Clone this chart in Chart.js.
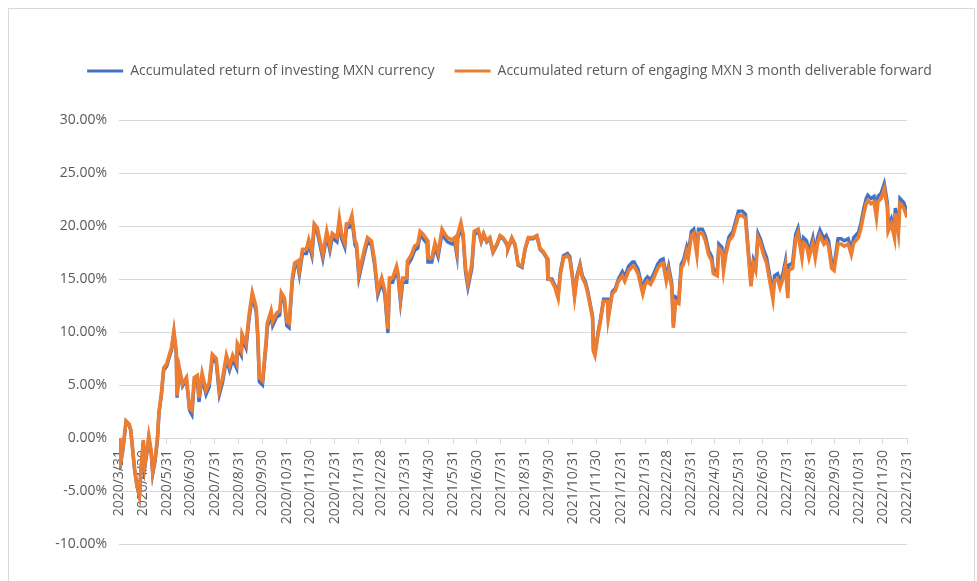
<!DOCTYPE html>
<html>
<head>
<meta charset="utf-8">
<script src="https://cdn.jsdelivr.net/npm/chart.js@4"></script>
<style>
html,body{margin:0;padding:0;background:#fff;}
#wrap{position:absolute;left:0;top:0;width:977px;height:581px;overflow:hidden;}
#frame{position:absolute;left:8px;top:8px;width:967px;height:590px;border:1px solid #d9d9d9;box-sizing:border-box;}
canvas{position:absolute;left:0;top:0;}
</style>
</head>
<body>
<div id="wrap"><div id="frame"></div><canvas id="c" width="977" height="581"></canvas></div>
<script>
const seriesNames = [
  "Accumulated return of investing MXN currency",
  "Accumulated return of engaging MXN 3 month deliverable forward"
];

const tickLabels = [
"2020/3/31","2020/4/30","2020/5/31","2020/6/30","2020/7/31","2020/8/31","2020/9/30","2020/10/31","2020/11/30","2020/12/31",
"2021/1/31","2021/2/28","2021/3/31","2021/4/30","2021/5/31","2021/6/30","2021/7/31","2021/8/31","2021/9/30","2021/10/31","2021/11/30","2021/12/31",
"2022/1/31","2022/2/28","2022/3/31","2022/4/30","2022/5/31","2022/6/30","2022/7/31","2022/8/31","2022/9/30","2022/10/31","2022/11/30","2022/12/31"
];

const dates = [
"2020-03-31","2020-04-01","2020-04-05","2020-04-09","2020-04-13","2020-04-15","2020-04-18","2020-04-20","2020-04-23","2020-04-26","2020-04-28",
"2020-05-01","2020-05-03","2020-05-06","2020-05-08","2020-05-11","2020-05-13","2020-05-16","2020-05-19","2020-05-21","2020-05-24","2020-05-27","2020-05-31",
"2020-06-03","2020-06-06","2020-06-09","2020-06-12","2020-06-13","2020-06-16","2020-06-20","2020-06-25","2020-06-29",
"2020-07-02","2020-07-05","2020-07-09","2020-07-11","2020-07-15","2020-07-20","2020-07-24","2020-07-28",
"2020-08-02","2020-08-06","2020-08-10","2020-08-15","2020-08-19","2020-08-23","2020-08-28","2020-08-29",
"2020-09-03","2020-09-04","2020-09-09","2020-09-13","2020-09-17","2020-09-22","2020-09-24","2020-09-26","2020-09-30",
"2020-10-05","2020-10-06","2020-10-11","2020-10-13","2020-10-18","2020-10-22","2020-10-24","2020-10-28","2020-10-31",
"2020-11-03","2020-11-07","2020-11-10","2020-11-14","2020-11-16","2020-11-20","2020-11-25","2020-11-28",
"2020-12-02","2020-12-05","2020-12-09","2020-12-12","2020-12-16","2020-12-21","2020-12-25","2020-12-28",
"2021-01-03","2021-01-06","2021-01-09","2021-01-13","2021-01-15","2021-01-19","2021-01-22","2021-01-26","2021-01-28","2021-01-31",
"2021-02-03","2021-02-07","2021-02-11","2021-02-16","2021-02-20","2021-02-24",
"2021-03-01","2021-03-05","2021-03-09","2021-03-11","2021-03-15","2021-03-20","2021-03-22","2021-03-25","2021-03-28",
"2021-04-02","2021-04-03","2021-04-08","2021-04-12","2021-04-16","2021-04-19","2021-04-22","2021-04-28","2021-04-29",
"2021-05-04","2021-05-08","2021-05-12","2021-05-17","2021-05-21","2021-05-24","2021-05-30",
"2021-06-02","2021-06-05","2021-06-06","2021-06-10","2021-06-13","2021-06-16","2021-06-19","2021-06-24","2021-06-27",
"2021-07-02","2021-07-06","2021-07-09","2021-07-13","2021-07-17","2021-07-21","2021-07-26","2021-07-30",
"2021-08-03","2021-08-08","2021-08-09","2021-08-14","2021-08-18","2021-08-22","2021-08-27","2021-08-31",
"2021-09-04","2021-09-10","2021-09-15","2021-09-19","2021-09-23","2021-09-28","2021-09-29",
"2021-10-04","2021-10-08","2021-10-12","2021-10-15","2021-10-19","2021-10-24","2021-10-27","2021-10-30",
"2021-11-02","2021-11-05","2021-11-09","2021-11-12","2021-11-16","2021-11-19","2021-11-25","2021-11-26","2021-11-28",
"2021-12-02","2021-12-05","2021-12-09","2021-12-14","2021-12-15","2021-12-20","2021-12-24","2021-12-28",
"2022-01-02","2022-01-05","2022-01-10","2022-01-15","2022-01-17","2022-01-22","2022-01-28","2022-01-31",
"2022-02-03","2022-02-07","2022-02-11","2022-02-16","2022-02-20","2022-02-23","2022-02-27",
"2022-03-02","2022-03-06","2022-03-08","2022-03-11","2022-03-15","2022-03-18","2022-03-21","2022-03-25","2022-03-27","2022-03-31",
"2022-04-03","2022-04-07","2022-04-09","2022-04-14","2022-04-18","2022-04-22","2022-04-26","2022-04-28",
"2022-05-03","2022-05-05","2022-05-09","2022-05-11","2022-05-14","2022-05-18","2022-05-23","2022-05-27","2022-05-30",
"2022-06-04","2022-06-08","2022-06-11","2022-06-15","2022-06-18","2022-06-21","2022-06-24","2022-06-27",
"2022-07-01","2022-07-05","2022-07-09","2022-07-13","2022-07-15","2022-07-19","2022-07-22","2022-07-26","2022-07-29",
"2022-08-01","2022-08-02","2022-08-07","2022-08-11","2022-08-14","2022-08-19","2022-08-21","2022-08-25","2022-08-28",
"2022-09-02","2022-09-05","2022-09-08","2022-09-11","2022-09-16","2022-09-19","2022-09-22","2022-09-26","2022-09-29",
"2022-10-04","2022-10-08","2022-10-12","2022-10-17","2022-10-21","2022-10-24","2022-10-30",
"2022-11-02","2022-11-06","2022-11-09","2022-11-11","2022-11-15","2022-11-19","2022-11-22","2022-11-24","2022-11-28",
"2022-12-02","2022-12-06","2022-12-07","2022-12-11","2022-12-15","2022-12-16","2022-12-20","2022-12-22","2022-12-27","2022-12-31"
];

// Accumulated return of investing MXN currency (%)
const investReturn = [
0.0,-2.9,-1.1,1.5,1.2,0.7,-1.6,-3.1,-4.6,-5.5,-3.1,
-0.4,-2.7,-1.2,0.0,-1.4,-3.4,-2.2,-0.2,2.3,4.0,6.4,6.8,
7.6,8.3,9.9,8.0,3.8,6.4,4.9,5.5,2.6,
2.2,5.3,5.5,3.4,5.7,4.1,4.8,7.5,
7.1,4.1,5.2,7.4,6.4,7.4,6.6,8.5,
7.8,9.4,8.5,11.3,13.3,11.9,9.4,5.3,5.0,
9.1,10.4,11.6,10.6,11.4,11.6,13.3,12.8,10.6,
10.4,14.7,16.1,16.3,15.4,17.4,17.4,18.3,
17.2,19.8,19.4,18.3,16.9,19.1,17.7,18.9,
18.5,20.3,18.8,18.0,19.8,19.9,20.6,18.2,17.9,15.1,
16.1,17.4,18.5,18.2,16.3,13.5,
14.7,13.5,9.9,14.7,14.7,15.8,15.1,12.8,14.7,
14.7,16.3,16.9,17.7,17.9,19.1,18.9,18.3,16.6,
16.6,18.0,17.1,19.3,18.8,18.5,18.3,
18.5,17.2,18.8,19.9,18.8,15.6,14.2,16.0,19.1,
19.6,18.5,19.2,18.5,18.8,17.5,18.2,19.0,
18.8,18.2,17.8,18.8,18.2,16.3,16.1,17.8,
18.8,18.8,19.0,17.8,17.5,16.9,15.0,
15.0,14.4,13.4,15.7,17.2,17.4,17.1,15.5,
13.5,15.3,16.4,15.3,14.7,13.8,11.5,8.4,8.0,
10.0,11.2,13.1,13.1,11.5,13.8,14.1,15.0,
15.7,15.2,16.2,16.6,16.6,15.9,14.0,14.9,
15.2,14.9,15.5,16.4,16.8,16.9,15.2,
16.2,14.6,10.8,13.3,13.1,16.4,16.8,18.0,17.4,19.5,
19.7,17.7,19.7,19.7,19.0,17.7,17.1,15.9,
15.7,18.3,18.0,16.2,17.7,19.0,19.5,20.6,21.4,
21.4,21.1,18.3,14.7,16.8,16.2,19.3,18.8,
17.8,17.0,15.3,13.6,15.3,15.5,14.7,15.6,16.7,
13.7,16.3,16.5,19.2,19.8,17.5,18.9,18.6,17.5,
18.9,17.5,18.9,19.6,18.8,19.1,18.6,16.5,16.3,
18.8,18.8,18.6,18.8,17.8,18.9,19.4,
20.2,21.7,22.6,22.9,22.6,22.8,21.3,22.8,23.1,
24.0,22.2,20.0,20.7,19.4,21.7,19.8,22.6,22.2,21.3
];

// Accumulated return of engaging MXN 3 month deliverable forward (%)
const forwardReturn = [
0.0,-2.8,-1.0,1.6,1.3,0.8,-1.5,-3.0,-4.5,-5.4,-3.0,
-0.2,-2.5,-1.0,0.2,-1.2,-3.2,-2.0,0.0,2.5,4.2,6.6,7.0,
7.8,8.5,10.1,8.2,4.0,6.6,5.1,5.7,2.8,
2.6,5.7,5.9,3.8,6.1,4.5,5.2,7.9,
7.5,4.5,5.6,7.8,6.8,7.8,7.0,8.9,
8.2,9.8,8.9,11.7,13.7,12.3,9.8,5.7,5.4,
9.5,10.8,12.0,11.0,11.8,12.0,13.7,13.2,11.0,
10.8,15.1,16.5,16.7,15.8,17.8,17.8,18.7,
17.6,20.2,19.8,18.7,17.3,19.5,18.1,19.3,
18.9,20.7,19.2,18.4,20.2,20.3,21.0,18.6,18.3,15.5,
16.5,17.8,18.9,18.6,16.7,13.9,
15.1,13.9,10.3,15.1,15.1,16.2,15.5,13.2,15.1,
15.1,16.7,17.3,18.1,18.3,19.5,19.3,18.7,17.0,
17.0,18.4,17.5,19.7,19.2,18.9,18.7,
18.9,17.6,19.2,20.3,19.2,16.0,14.6,16.4,19.5,
19.7,18.6,19.3,18.6,18.9,17.6,18.3,19.1,
18.9,18.3,17.9,18.9,18.3,16.4,16.2,17.9,
18.9,18.9,19.1,17.9,17.6,17.0,15.1,
14.8,14.2,13.2,15.5,17.0,17.2,16.9,15.3,
13.3,15.1,16.2,15.1,14.5,13.6,11.3,8.2,7.8,
9.8,11.0,12.9,12.9,11.3,13.6,13.9,14.8,
15.3,14.8,15.8,16.2,16.2,15.5,13.6,14.5,
14.8,14.5,15.1,16.0,16.4,16.5,14.8,
15.8,14.2,10.4,12.9,12.7,16.0,16.4,17.6,17.0,19.1,
19.3,17.3,19.3,19.3,18.6,17.3,16.7,15.5,
15.3,17.9,17.6,15.8,17.3,18.6,19.1,20.2,21.0,
21.0,20.7,17.9,14.3,16.4,15.8,18.9,18.4,
17.3,16.5,14.8,13.1,14.8,15.0,14.2,15.1,16.2,
13.2,15.8,16.0,18.7,19.3,17.0,18.4,18.1,17.0,
18.4,17.0,18.4,19.1,18.3,18.6,18.1,16.0,15.8,
18.3,18.3,18.1,18.3,17.3,18.4,18.9,
19.7,21.2,22.1,22.4,22.1,22.3,20.8,22.3,22.6,
23.5,21.7,19.5,20.2,18.9,21.2,19.3,22.1,21.7,20.8
];

const dayOf = (y, m, d) => (Date.UTC(y, m - 1, d) - Date.UTC(2020, 2, 31)) / 86400000;
const xDays = dates.map(s => { const p = s.split('-').map(Number); return dayOf(p[0], p[1], p[2]); });
const tickDays = tickLabels.map(s => { const p = s.split('/').map(Number); return dayOf(p[0], p[1], p[2]); });
const toPoints = vals => vals.map((v, i) => ({ x: xDays[i], y: v }));

const legendSpace = {
  id: 'legendSpace',
  beforeInit(chart) {
    const lg = chart.legend;
    if (!lg) return;
    const orig = lg.fit.bind(lg);
    lg.fit = function () { orig(); this.height += 32; };
  }
};

const FONT = "'Open Sans', sans-serif";
const GREY = '#595959';

new Chart(document.getElementById('c'), {
  type: 'line',
  data: {
    datasets: [
      {
        label: seriesNames[1],
        data: toPoints(forwardReturn),
        borderColor: '#ED7D31',
        backgroundColor: '#ED7D31',
        borderWidth: 3.6,
        pointRadius: 0,
        tension: 0
      },
      {
        label: seriesNames[0],
        data: toPoints(investReturn),
        borderColor: '#4472C4',
        backgroundColor: '#4472C4',
        borderWidth: 3.4,
        pointRadius: 0,
        tension: 0
      }
    ]
  },
  options: {
    responsive: false,
    animation: false,
    devicePixelRatio: 1,
    layout: { padding: { left: 42, right: 0, top: 44, bottom: 37 } },
    plugins: {
      tooltip: { enabled: false },
      legend: {
        position: 'top',
        reverse: true,
        labels: {
          boxWidth: 36,
          boxHeight: 3,
          padding: 20,
          color: GREY,
          font: { family: FONT, size: 14 },
          generateLabels: (chart) =>
            Chart.defaults.plugins.legend.labels.generateLabels(chart).map(l => Object.assign(l, { lineWidth: 0, fillStyle: l.strokeStyle }))
        }
      }
    },
    scales: {
      x: {
        type: 'linear',
        min: 0,
        max: tickDays[tickDays.length - 1],
        position: { y: 0 },
        afterBuildTicks: (scale) => { scale.ticks = tickDays.map(v => ({ value: v })); },
        afterFit: (scale) => { scale.height = 0; },
        ticks: {
          autoSkip: false,
          minRotation: 90,
          maxRotation: 90,
          padding: 7,
          color: GREY,
          font: { family: FONT, size: 14 },
          callback: (value, index) => tickLabels[index]
        },
        grid: { drawOnChartArea: false, drawTicks: true, tickLength: 5, color: '#d9d9d9' },
        border: { display: true, color: '#d9d9d9', width: 1 }
      },
      y: {
        position: 'left',
        min: -10,
        max: 30,
        afterFit: (scale) => { scale.width = 77; },
        ticks: {
          stepSize: 5,
          padding: 12,
          color: GREY,
          font: { family: FONT, size: 14 },
          callback: (v) => v.toFixed(2) + '%'
        },
        grid: { color: '#d9d9d9', drawTicks: false },
        border: { display: false }
      },
      yRight: {
        position: 'right',
        min: -10,
        max: 30,
        afterFit: (scale) => { scale.width = 70; },
        ticks: { display: false },
        grid: { display: false },
        border: { display: false }
      }
    }
  },
  plugins: [legendSpace]
});
</script>
</body>
</html>
